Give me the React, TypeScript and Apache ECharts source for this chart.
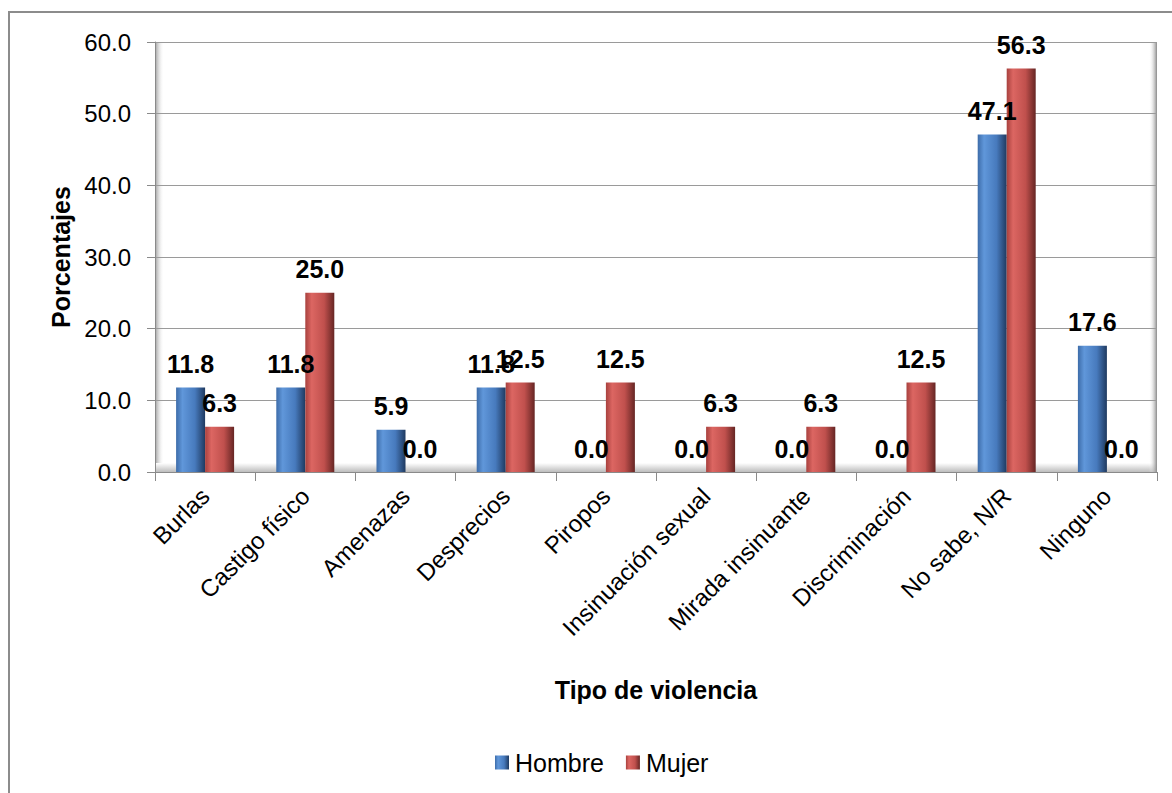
import React, { useEffect, useRef } from "react";
import * as echarts from "echarts";

const categories = [
  "Burlas",
  "Castigo físico",
  "Amenazas",
  "Desprecios",
  "Piropos",
  "Insinuación sexual",
  "Mirada insinuante",
  "Discriminación",
  "No sabe, N/R",
  "Ninguno",
];
const hombre = [11.8, 11.8, 5.9, 11.8, 0.0, 0.0, 0.0, 0.0, 47.1, 17.6];
const mujer = [6.3, 25.0, 0.0, 12.5, 12.5, 6.3, 6.3, 12.5, 56.3, 0.0];
const seriesNames = ["Hombre", "Mujer"];

const FONT = "Liberation Sans, Arial, sans-serif";

const blueGrad = new echarts.graphic.LinearGradient(0, 0, 1, 0, [
  { offset: 0, color: "#3d6ca9" },
  { offset: 0.22, color: "#6097da" },
  { offset: 0.65, color: "#477abd" },
  { offset: 1, color: "#1f3a60" },
]);
const redGrad = new echarts.graphic.LinearGradient(0, 0, 1, 0, [
  { offset: 0, color: "#a8413e" },
  { offset: 0.22, color: "#dc6662" },
  { offset: 0.65, color: "#c0504d" },
  { offset: 1, color: "#662624" },
]);

const L = 155;
const R = 1157;
const T = 42;
const B = 472;

export default function App() {
  const ref = useRef<HTMLDivElement>(null);
  useEffect(() => {
    if (!ref.current) return;
    const chart = echarts.init(ref.current, null, { renderer: "svg" });
    const label = {
      show: true,
      position: "top",
      distance: 11,
      fontFamily: FONT,
      fontSize: 25,
      fontWeight: "bold",
      color: "#000",
      formatter: (p: any) => Number(p.value).toFixed(1),
    };
    chart.setOption({
      animation: false,
      backgroundColor: "#fff",
      textStyle: { fontFamily: FONT },
      graphic: [
        {
          type: "rect",
          z: 0,
          shape: { x: 9, y: 12, width: 1200, height: 800 },
          style: { fill: "none", stroke: "#8c8c8c", lineWidth: 2 },
          silent: true,
        },
        {
          type: "rect",
          z: 0,
          shape: { x: L, y: T, width: 9, height: B - T },
          style: {
            fill: new echarts.graphic.LinearGradient(0, 0, 1, 0, [
              { offset: 0, color: "#9a9a9a" },
              { offset: 1, color: "rgba(255,255,255,0)" },
            ]),
          },
          silent: true,
        },
        {
          type: "rect",
          z: 0,
          shape: { x: L, y: B - 9, width: R - L, height: 9 },
          style: {
            fill: new echarts.graphic.LinearGradient(0, 0, 0, 1, [
              { offset: 0, color: "#ffffff" },
              { offset: 1, color: "#bdbdbd" },
            ]),
          },
          silent: true,
        },
        {
          type: "rect",
          z: 0,
          shape: { x: R - 8, y: T, width: 8, height: B - T },
          style: {
            fill: new echarts.graphic.LinearGradient(0, 0, 1, 0, [
              { offset: 0, color: "rgba(255,255,255,0)" },
              { offset: 1, color: "#8a8a8a" },
            ]),
          },
          silent: true,
        },
      ],
      grid: { left: L, right: 1172 - R, top: T, bottom: 793 - B, containLabel: false },
      legend: {
        top: 745,
        left: 490,
        itemWidth: 14,
        itemHeight: 14,
        itemGap: 22,
        icon: "rect",
        textStyle: { fontFamily: FONT, fontSize: 25, color: "#000", padding: [0, 0, 0, 1] },
        data: seriesNames,
      },
      xAxis: {
        type: "category",
        data: categories,
        name: "Tipo de violencia",
        nameLocation: "middle",
        nameGap: 205,
        nameTextStyle: { fontFamily: FONT, fontSize: 25, fontWeight: "bold", color: "#000" },
        axisLine: { show: true, lineStyle: { color: "#8a8a8a", width: 1 } },
        axisTick: { show: true, alignWithLabel: false, length: 9, lineStyle: { color: "#8a8a8a" } },
        axisLabel: {
          rotate: 45,
          fontFamily: FONT,
          fontSize: 24,
          color: "#000",
          margin: 20,
          interval: 0,
        },
        z: 3,
      },
      yAxis: {
        type: "value",
        min: 0,
        max: 60,
        interval: 10,
        name: "Porcentajes",
        nameLocation: "middle",
        nameGap: 82,
        nameRotate: 90,
        nameTextStyle: { fontFamily: FONT, fontSize: 25, fontWeight: "bold", color: "#000" },
        axisLine: { show: true, lineStyle: { color: "#8a8a8a", width: 1 } },
        axisTick: { show: true, length: 8, lineStyle: { color: "#8a8a8a" } },
        axisLabel: {
          fontFamily: FONT,
          fontSize: 24,
          color: "#000",
          margin: 24,
          formatter: (v: number) => v.toFixed(1),
        },
        splitLine: { show: true, lineStyle: { color: "#9a9a9a", width: 1 } },
      },
      series: [
        {
          name: "Hombre",
          type: "bar",
          data: hombre,
          barWidth: 29,
          barGap: "0%",
          z: 2,
          itemStyle: { color: blueGrad },
          label,
        },
        {
          name: "Mujer",
          type: "bar",
          data: mujer,
          barWidth: 29,
          barGap: "0%",
          z: 2,
          itemStyle: { color: redGrad },
          label,
        },
      ],
    });
    return () => chart.dispose();
  }, []);
  return (
    <div
      ref={ref}
      style={{ position: "fixed", left: 0, top: 0, width: 1172, height: 793 }}
    />
  );
}
